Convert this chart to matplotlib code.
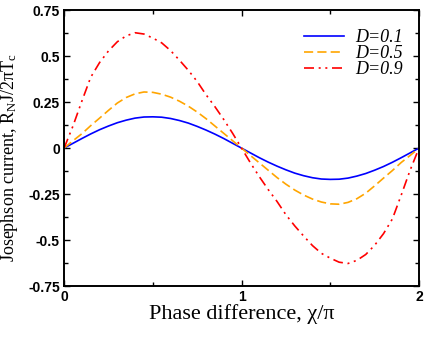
import matplotlib
matplotlib.use("Agg")
import matplotlib.pyplot as plt
from matplotlib.ticker import MultipleLocator, FuncFormatter

plt.rcParams["mathtext.fontset"] = "custom"
plt.rcParams["mathtext.rm"] = "Liberation Serif"
plt.rcParams["mathtext.it"] = "Liberation Serif:italic"

# phase difference chi/pi
phase = [0.00, 0.05, 0.10, 0.15, 0.20, 0.25, 0.30, 0.35, 0.40, 0.45,
         0.50, 0.55, 0.60, 0.65, 0.70, 0.75, 0.80, 0.85, 0.90, 0.95,
         1.00, 1.05, 1.10, 1.15, 1.20, 1.25, 1.30, 1.35, 1.40, 1.45,
         1.50, 1.55, 1.60, 1.65, 1.70, 1.75, 1.80, 1.85, 1.90, 1.95, 2.00]

# Josephson current R_N J / 2 pi T_c
cur_d01 = [0.000, 0.026, 0.052, 0.077, 0.100, 0.120, 0.138, 0.152, 0.163, 0.169,
           0.170, 0.168, 0.161, 0.150, 0.136, 0.118, 0.098, 0.076, 0.052, 0.026,
           0.000, -0.026, -0.052, -0.076, -0.098, -0.118, -0.136, -0.150, -0.161, -0.168,
           -0.170, -0.169, -0.163, -0.152, -0.138, -0.120, -0.100, -0.077, -0.052, -0.026, 0.000]
cur_d05 = [0.000, 0.040, 0.078, 0.122, 0.163, 0.205, 0.245, 0.275, 0.295, 0.305,
           0.303, 0.293, 0.277, 0.255, 0.228, 0.196, 0.160, 0.120, 0.080, 0.040,
           0.000, -0.040, -0.080, -0.120, -0.160, -0.196, -0.228, -0.255, -0.277, -0.293,
           -0.303, -0.305, -0.295, -0.275, -0.245, -0.205, -0.163, -0.122, -0.078, -0.040, 0.000]
cur_d09 = [0.000, 0.120, 0.255, 0.385, 0.465, 0.528, 0.578, 0.610, 0.627, 0.620,
           0.598, 0.572, 0.530, 0.478, 0.423, 0.362, 0.290, 0.225, 0.155, 0.080,
           0.000, -0.080, -0.155, -0.225, -0.290, -0.362, -0.423, -0.478, -0.530, -0.572,
           -0.598, -0.620, -0.627, -0.610, -0.578, -0.528, -0.465, -0.385, -0.255, -0.120, 0.000]

labels = ["D=0.1", "D=0.5", "D=0.9"]

fig = plt.figure(figsize=(4.36, 3.37), dpi=100)
ax = fig.add_axes([0.147, 0.151, 0.814, 0.819])

ax.plot(phase, cur_d01, color="#0000ff", lw=1.2, label=labels[0])
ax.plot(phase, cur_d05, color="#ffa500", lw=1.2, dashes=(5.5, 2.5), label=labels[1])
ax.plot(phase, cur_d09, color="#ff0000", lw=1.2,
        dashes=(6, 2.8, 1.2, 2.8, 1.2, 2.8), label=labels[2])

ax.set_xlim(0, 2)
ax.set_ylim(-0.75, 0.75)
ax.xaxis.set_major_locator(MultipleLocator(1))
ax.xaxis.set_minor_locator(MultipleLocator(0.5))
ax.yaxis.set_major_locator(MultipleLocator(0.25))
ax.yaxis.set_minor_locator(MultipleLocator(0.125))
ax.yaxis.set_major_formatter(FuncFormatter(lambda v, p: "0" if abs(v) < 1e-9 else ("%g" % v)))
ax.xaxis.set_major_formatter(FuncFormatter(lambda v, p: "%d" % round(v)))

ax.tick_params(which="both", direction="in", top=True, right=True, width=1.0)
ax.tick_params(which="major", length=4)
ax.tick_params(which="minor", length=3)
ax.tick_params(axis="y", which="major", pad=3)
ax.tick_params(axis="x", which="major", pad=3)
for lab in ax.get_xticklabels() + ax.get_yticklabels():
    lab.set_family("Liberation Sans")
    lab.set_fontweight("bold")
    lab.set_fontsize(10)
for sp in ax.spines.values():
    sp.set_linewidth(1.4)

ax.set_xlabel("Phase difference, χ/π", family="Liberation Serif", fontsize=16, labelpad=0)
ax.set_ylabel("Josephson current, R$_\\mathrm{N}$J/2$\\mathrm{\\pi}$T$_\\mathrm{c}$",
              family="Liberation Serif", fontsize=13)
ax.yaxis.set_label_coords(-0.125, 0.465)

leg = ax.legend(loc="upper right", bbox_to_anchor=(1.02, 1.017), frameon=False,
                handlelength=2.2, handletextpad=0.6, labelspacing=-0.05, borderaxespad=0.9,
                prop={"family": "Liberation Serif", "style": "italic", "size": 13})

fig.savefig("out.png", dpi=100)
